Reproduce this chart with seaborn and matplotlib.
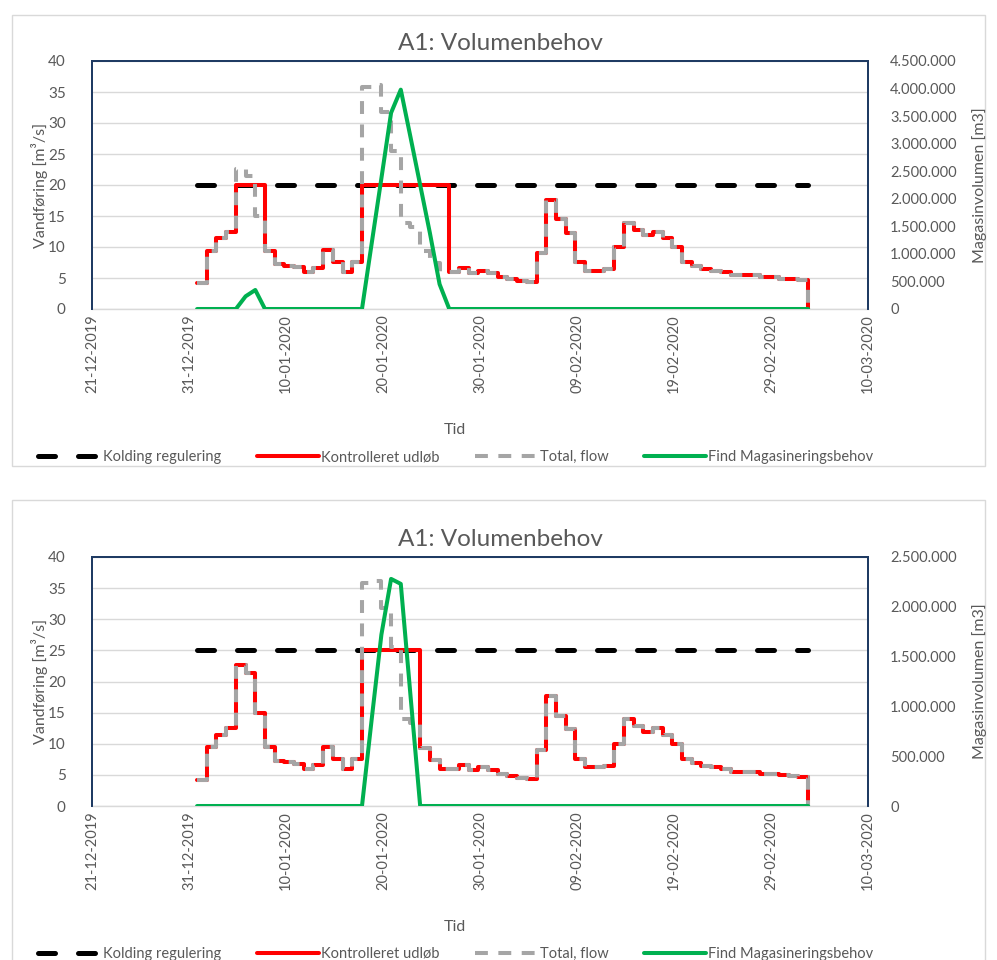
import numpy as np
import pandas as pd
import matplotlib
matplotlib.use("Agg")
import matplotlib.pyplot as plt
import matplotlib.ticker as mticker
import matplotlib.dates as mdates
from matplotlib.patches import Rectangle
import seaborn as sns

sns.set_theme(style="white")
plt.rcParams['font.family'] = ['Lato', 'DejaVu Sans']

# ---------------- data ----------------
start_time = "2019-12-31 20:00"
# daily total flow (m3/s); last value closes the step series
total_flow = [4.2, 9.4, 11.4, 12.5, 22.6, 21.4, 15.0, 9.4, 7.2, 7.0,
              6.7, 5.9, 6.6, 9.5, 7.6, 5.9, 7.6, 35.8, 36.2, 31.8,
              25.5, 13.9, 13.3, 9.3, 7.4, 6.0, 6.0, 6.6, 5.8, 6.2,
              5.8, 5.2, 4.8, 4.5, 4.3, 9.0, 17.6, 14.5, 12.3, 7.6,
              6.2, 6.2, 6.5, 10.0, 13.9, 12.8, 11.9, 12.5, 11.4, 10.0,
              7.6, 6.9, 6.4, 6.2, 5.9, 5.5, 5.5, 5.5, 5.2, 5.2,
              4.9, 4.8, 4.7, 0.0]
ctrl_top = [4.2, 9.4, 11.4, 12.5, 20.0, 20.0, 20.0, 9.4, 7.2, 7.0,
            6.7, 5.9, 6.6, 9.5, 7.6, 5.9, 7.6, 20.0, 20.0, 20.0,
            20.0, 20.0, 20.0, 20.0, 20.0, 20.0, 6.0, 6.6, 5.8, 6.2,
            5.8, 5.2, 4.8, 4.5, 4.3, 9.0, 17.6, 14.5, 12.3, 7.6,
            6.2, 6.2, 6.5, 10.0, 13.9, 12.8, 11.9, 12.5, 11.4, 10.0,
            7.6, 6.9, 6.4, 6.2, 5.9, 5.5, 5.5, 5.5, 5.2, 5.2,
            4.9, 4.8, 4.7, 0.0]
ctrl_bottom = [4.2, 9.4, 11.4, 12.5, 22.6, 21.4, 15.0, 9.4, 7.2, 7.0,
               6.7, 5.9, 6.6, 9.5, 7.6, 5.9, 7.6, 25.0, 25.0, 25.0,
               25.0, 25.0, 25.0, 9.3, 7.4, 6.0, 6.0, 6.6, 5.8, 6.2,
               5.8, 5.2, 4.8, 4.5, 4.3, 9.0, 17.6, 14.5, 12.3, 7.6,
               6.2, 6.2, 6.5, 10.0, 13.9, 12.8, 11.9, 12.5, 11.4, 10.0,
               7.6, 6.9, 6.4, 6.2, 5.9, 5.5, 5.5, 5.5, 5.2, 5.2,
               4.9, 4.8, 4.7, 0.0]
kolding_levels = [20, 25]
storage_top = [0, 0, 0, 0, 0, 230000, 345000, 0, 0, 0,
               0, 0, 0, 0, 0, 0, 0, 0, 1190000, 2370000,
               3560000, 3980000, 3120000, 2250000, 1380000, 450000, 0, 0, 0, 0,
               0, 0, 0, 0, 0, 0, 0, 0, 0, 0,
               0, 0, 0, 0, 0, 0, 0, 0, 0, 0,
               0, 0, 0, 0, 0, 0, 0, 0, 0, 0,
               0, 0, 0, 0]
storage_bottom = [0, 0, 0, 0, 0, 0, 0, 0, 0, 0,
                  0, 0, 0, 0, 0, 0, 0, 0, 870000, 1720000,
                  2280000, 2230000, 1110000, 0, 0, 0, 0, 0, 0, 0,
                  0, 0, 0, 0, 0, 0, 0, 0, 0, 0,
                  0, 0, 0, 0, 0, 0, 0, 0, 0, 0,
                  0, 0, 0, 0, 0, 0, 0, 0, 0, 0,
                  0, 0, 0, 0]
right_max = [4500000, 2500000]
right_step = [500000, 500000]
titles = ["A1: Volumenbehov", "A1: Volumenbehov"]
legend_labels = ["Kolding regulering", "Kontrolleret udløb", "Total, flow",
                 "Find Magasineringsbehov"]
x_ticks = ["2019-12-21", "2019-12-31", "2020-01-10", "2020-01-20", "2020-01-30",
           "2020-02-09", "2020-02-19", "2020-02-29", "2020-03-10"]

times = pd.date_range(start_time, periods=len(total_flow), freq="D")

# ---------------- styling ----------------
W, H = 997, 960
fig = plt.figure(figsize=(W / 100, H / 100), dpi=100)
TXT = "#595959"
NAVY = "#1F3B63"
GRID = "#D9D9D9"

def fx(px):
    return px / W

def fy(py):
    return 1 - py / H

panels = [
    dict(top=61, bottom=309, ctrl=ctrl_top, store=storage_top, kold=kolding_levels[0],
         rmax=right_max[0], rstep=right_step[0], title=titles[0], box=(15, 466)),
    dict(top=557, bottom=806, ctrl=ctrl_bottom, store=storage_bottom, kold=kolding_levels[1],
         rmax=right_max[1], rstep=right_step[1], title=titles[1], box=(500, 975)),
]

left_px, right_px = 92, 868

for p in panels:
    # chart box
    fig.add_artist(Rectangle((fx(12), fy(p["box"][1])), fx(985 - 12), (p["box"][1] - p["box"][0]) / H,
                             transform=fig.transFigure, fill=False, edgecolor=GRID, lw=1.0))
    ax = fig.add_axes([fx(left_px), fy(p["bottom"]), fx(right_px - left_px),
                       (p["bottom"] - p["top"]) / H])
    df = pd.DataFrame({
        "Tid": times,
        "kolding": [p["kold"]] * len(times),
        "ctrl": p["ctrl"],
        "flow": total_flow,
        "store": p["store"],
    })
    sns.lineplot(data=df, x="Tid", y="kolding", ax=ax, color="black", lw=3.6,
                 linestyle=(0, (3.4, 4.6)), dash_capstyle="round", estimator=None,
                 label=legend_labels[0], legend=False, zorder=3)
    sns.lineplot(data=df, x="Tid", y="ctrl", ax=ax, color="#FF0000", lw=2.9,
                 drawstyle="steps-post", estimator=None, label=legend_labels[1],
                 legend=False, zorder=4)
    sns.lineplot(data=df, x="Tid", y="flow", ax=ax, color="#A5A5A5", lw=2.9,
                 linestyle=(0, (3.2, 2.6)), drawstyle="steps-post", estimator=None,
                 label=legend_labels[2], legend=False, zorder=5)
    ax.set_ylim(0, 40)
    ax.set_yticks(np.arange(0, 41, 5))
    ax.set_xlim(pd.Timestamp(x_ticks[0]), pd.Timestamp(x_ticks[-1]))
    ax.set_xticks([pd.Timestamp(t) for t in x_ticks])
    ax.xaxis.set_major_formatter(mdates.DateFormatter("%d-%m-%Y"))
    ax.grid(axis="y", color=GRID, lw=1.0)
    ax.set_axisbelow(True)
    ax.tick_params(axis="x", length=0, labelrotation=90, labelsize=10.5, colors=TXT, pad=4)
    ax.tick_params(axis="y", length=0, labelsize=11, colors=TXT, pad=19)
    ax.set_xlabel("")
    ax.set_ylabel("")
    for s in ["left", "top", "right"]:
        ax.spines[s].set_color(NAVY)
        ax.spines[s].set_linewidth(1.4)
    ax.spines["bottom"].set_color(GRID)
    ax.spines["bottom"].set_linewidth(1.0)

    ax2 = ax.twinx()
    sns.lineplot(data=df, x="Tid", y="store", ax=ax2, color="#00B050", lw=2.9,
                 estimator=None, label=legend_labels[3], legend=False, zorder=6)
    ax2.set_ylim(0, p["rmax"])
    ax2.set_yticks(np.arange(0, p["rmax"] + 1, p["rstep"]))
    ax2.yaxis.set_major_formatter(mticker.FuncFormatter(
        lambda v, pos: f"{int(round(v)):,}".replace(",", ".")))
    ax2.tick_params(axis="y", length=0, labelsize=10.5, colors=TXT, pad=16)
    ax2.set_ylabel("")
    ax2.set_xlabel("")
    for s in ["left", "top", "right"]:
        ax2.spines[s].set_color(NAVY)
        ax2.spines[s].set_linewidth(1.4)
    ax2.spines["bottom"].set_visible(False)

    # texts
    fig.text(fx(500), fy(p["top"] - 18), p["title"], ha="center", va="center",
             fontsize=17.5, color=TXT)
    fig.text(fx(40), fy((p["top"] + p["bottom"]) / 2), "Vandføring [m³/s]", rotation=90,
             ha="center", va="center", fontsize=11.5, color=TXT)
    fig.text(fx(980), fy((p["top"] + p["bottom"]) / 2), "Magasinvolumen [m3]", rotation=90,
             ha="center", va="center", fontsize=11.5, color=TXT)
    fig.text(fx(455), fy(p["bottom"] + 121), "Tid", ha="center", va="center",
             fontsize=11.5, color=TXT)

    handles = ax.get_lines()[:3] + ax2.get_lines()[:1]
    fig.legend(handles, legend_labels, loc="center", ncol=4, frameon=False,
               bbox_to_anchor=(fx(456), fy(p["bottom"] + 148)), fontsize=10.5,
               handlelength=4.3, handletextpad=0.15, columnspacing=2.4, labelcolor=TXT)

fig.savefig("out.png", dpi=100)
